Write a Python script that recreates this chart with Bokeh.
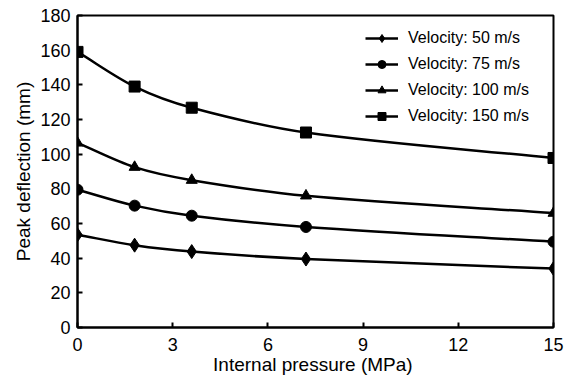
from bokeh.plotting import figure
from bokeh.models import Range1d, FixedTicker, Legend, LegendItem, ColumnDataSource
from bokeh.embed import file_html
from bokeh.resources import INLINE

# ---- data ----
pressure = [0, 1.8, 3.6, 7.2, 15]
v50 = [53.5, 47.5, 43.8, 39.5, 34.0]
v75 = [79.5, 70.3, 64.5, 58.0, 49.5]
v100 = [106.5, 92.5, 85.0, 76.0, 66.0]
v150 = [159.0, 139.0, 126.8, 112.5, 97.8]
labels = ["Velocity: 50 m/s", "Velocity: 75 m/s", "Velocity: 100 m/s", "Velocity: 150 m/s"]
markers = ["diamond", "circle", "triangle", "square"]
marker_sizes = [14, 11, 11, 11]
x_ticks = [0, 3, 6, 9, 12, 15]
y_ticks = [0, 20, 40, 60, 80, 100, 120, 140, 160, 180]

FONT = "Liberation Sans"

p = figure(width=571, height=381, output_backend="svg", toolbar_location=None,
           x_range=Range1d(0, 15), y_range=Range1d(0, 180),
           min_border_left=77, min_border_right=18, min_border_top=15, min_border_bottom=54)
p.background_fill_color = "white"
p.border_fill_color = "white"
p.outline_line_color = "black"
p.outline_line_width = 2
p.xgrid.visible = False
p.ygrid.visible = False

for ax, ticks in ((p.xaxis[0], x_ticks), (p.yaxis[0], y_ticks)):
    ax.ticker = FixedTicker(ticks=ticks)
    ax.minor_tick_line_color = None
    ax.major_tick_in = 5
    ax.major_tick_out = 0
    ax.major_tick_line_width = 2
    ax.axis_line_width = 2
    ax.axis_line_color = "black"
    ax.major_label_text_font = FONT
    ax.major_label_text_font_size = "18px"
    ax.major_label_text_color = "black"
    ax.axis_label_text_font = FONT
    ax.axis_label_text_font_style = "normal"
    ax.axis_label_text_color = "black"

p.xaxis[0].axis_label = "Internal pressure  (MPa)"
p.xaxis[0].axis_label_text_font_size = "19px"
p.xaxis[0].major_label_standoff = 10
p.xaxis[0].axis_label_standoff = 0
p.yaxis[0].axis_label = "Peak deflection (mm)"
p.yaxis[0].axis_label_text_font_size = "19px"
p.yaxis[0].major_label_standoff = 7
p.yaxis[0].axis_label_standoff = 3


def bezier_controls(xs, ys):
    n = len(xs)
    m = []
    for i in range(n):
        if i == 0:
            m.append((ys[1] - ys[0]) / (xs[1] - xs[0]))
        elif i == n - 1:
            m.append((ys[-1] - ys[-2]) / (xs[-1] - xs[-2]))
        else:
            m.append((ys[i + 1] - ys[i - 1]) / (xs[i + 1] - xs[i - 1]))
    x0, y0, x1, y1, cx0, cy0, cx1, cy1 = ([] for _ in range(8))
    for i in range(n - 1):
        h = xs[i + 1] - xs[i]
        x0.append(xs[i]); y0.append(ys[i])
        x1.append(xs[i + 1]); y1.append(ys[i + 1])
        cx0.append(xs[i] + h / 3); cy0.append(ys[i] + m[i] * h / 3)
        cx1.append(xs[i + 1] - h / 3); cy1.append(ys[i + 1] - m[i + 1] * h / 3)
    return dict(x0=x0, y0=y0, x1=x1, y1=y1, cx0=cx0, cy0=cy0, cx1=cx1, cy1=cy1)


nan = float("nan")
items = []
for ys, lab, mk, ms in zip([v50, v75, v100, v150], labels, markers, marker_sizes):
    src = ColumnDataSource(bezier_controls(pressure, ys))
    p.bezier(x0="x0", y0="y0", x1="x1", y1="y1", cx0="cx0", cy0="cy0", cx1="cx1", cy1="cy1",
             source=src, line_color="black", line_width=2.5)
    sc = p.scatter(pressure, ys, marker=mk, size=ms, fill_color="black", line_color="black")
    lg = p.line([nan], [nan], line_color="black", line_width=2.5)
    items.append(LegendItem(label=lab, renderers=[lg, sc]))

legend = Legend(items=items, location=(288, 201))
legend.label_text_font = FONT
legend.label_text_font_size = "16px"
legend.label_text_color = "black"
legend.glyph_width = 33
legend.glyph_height = 20
legend.label_height = 20
legend.label_standoff = 10
legend.spacing = 6
legend.padding = 0
legend.margin = 0
legend.border_line_alpha = 0
legend.background_fill_alpha = 0
p.add_layout(legend)

open("out.html", "w").write(file_html(p, INLINE))
